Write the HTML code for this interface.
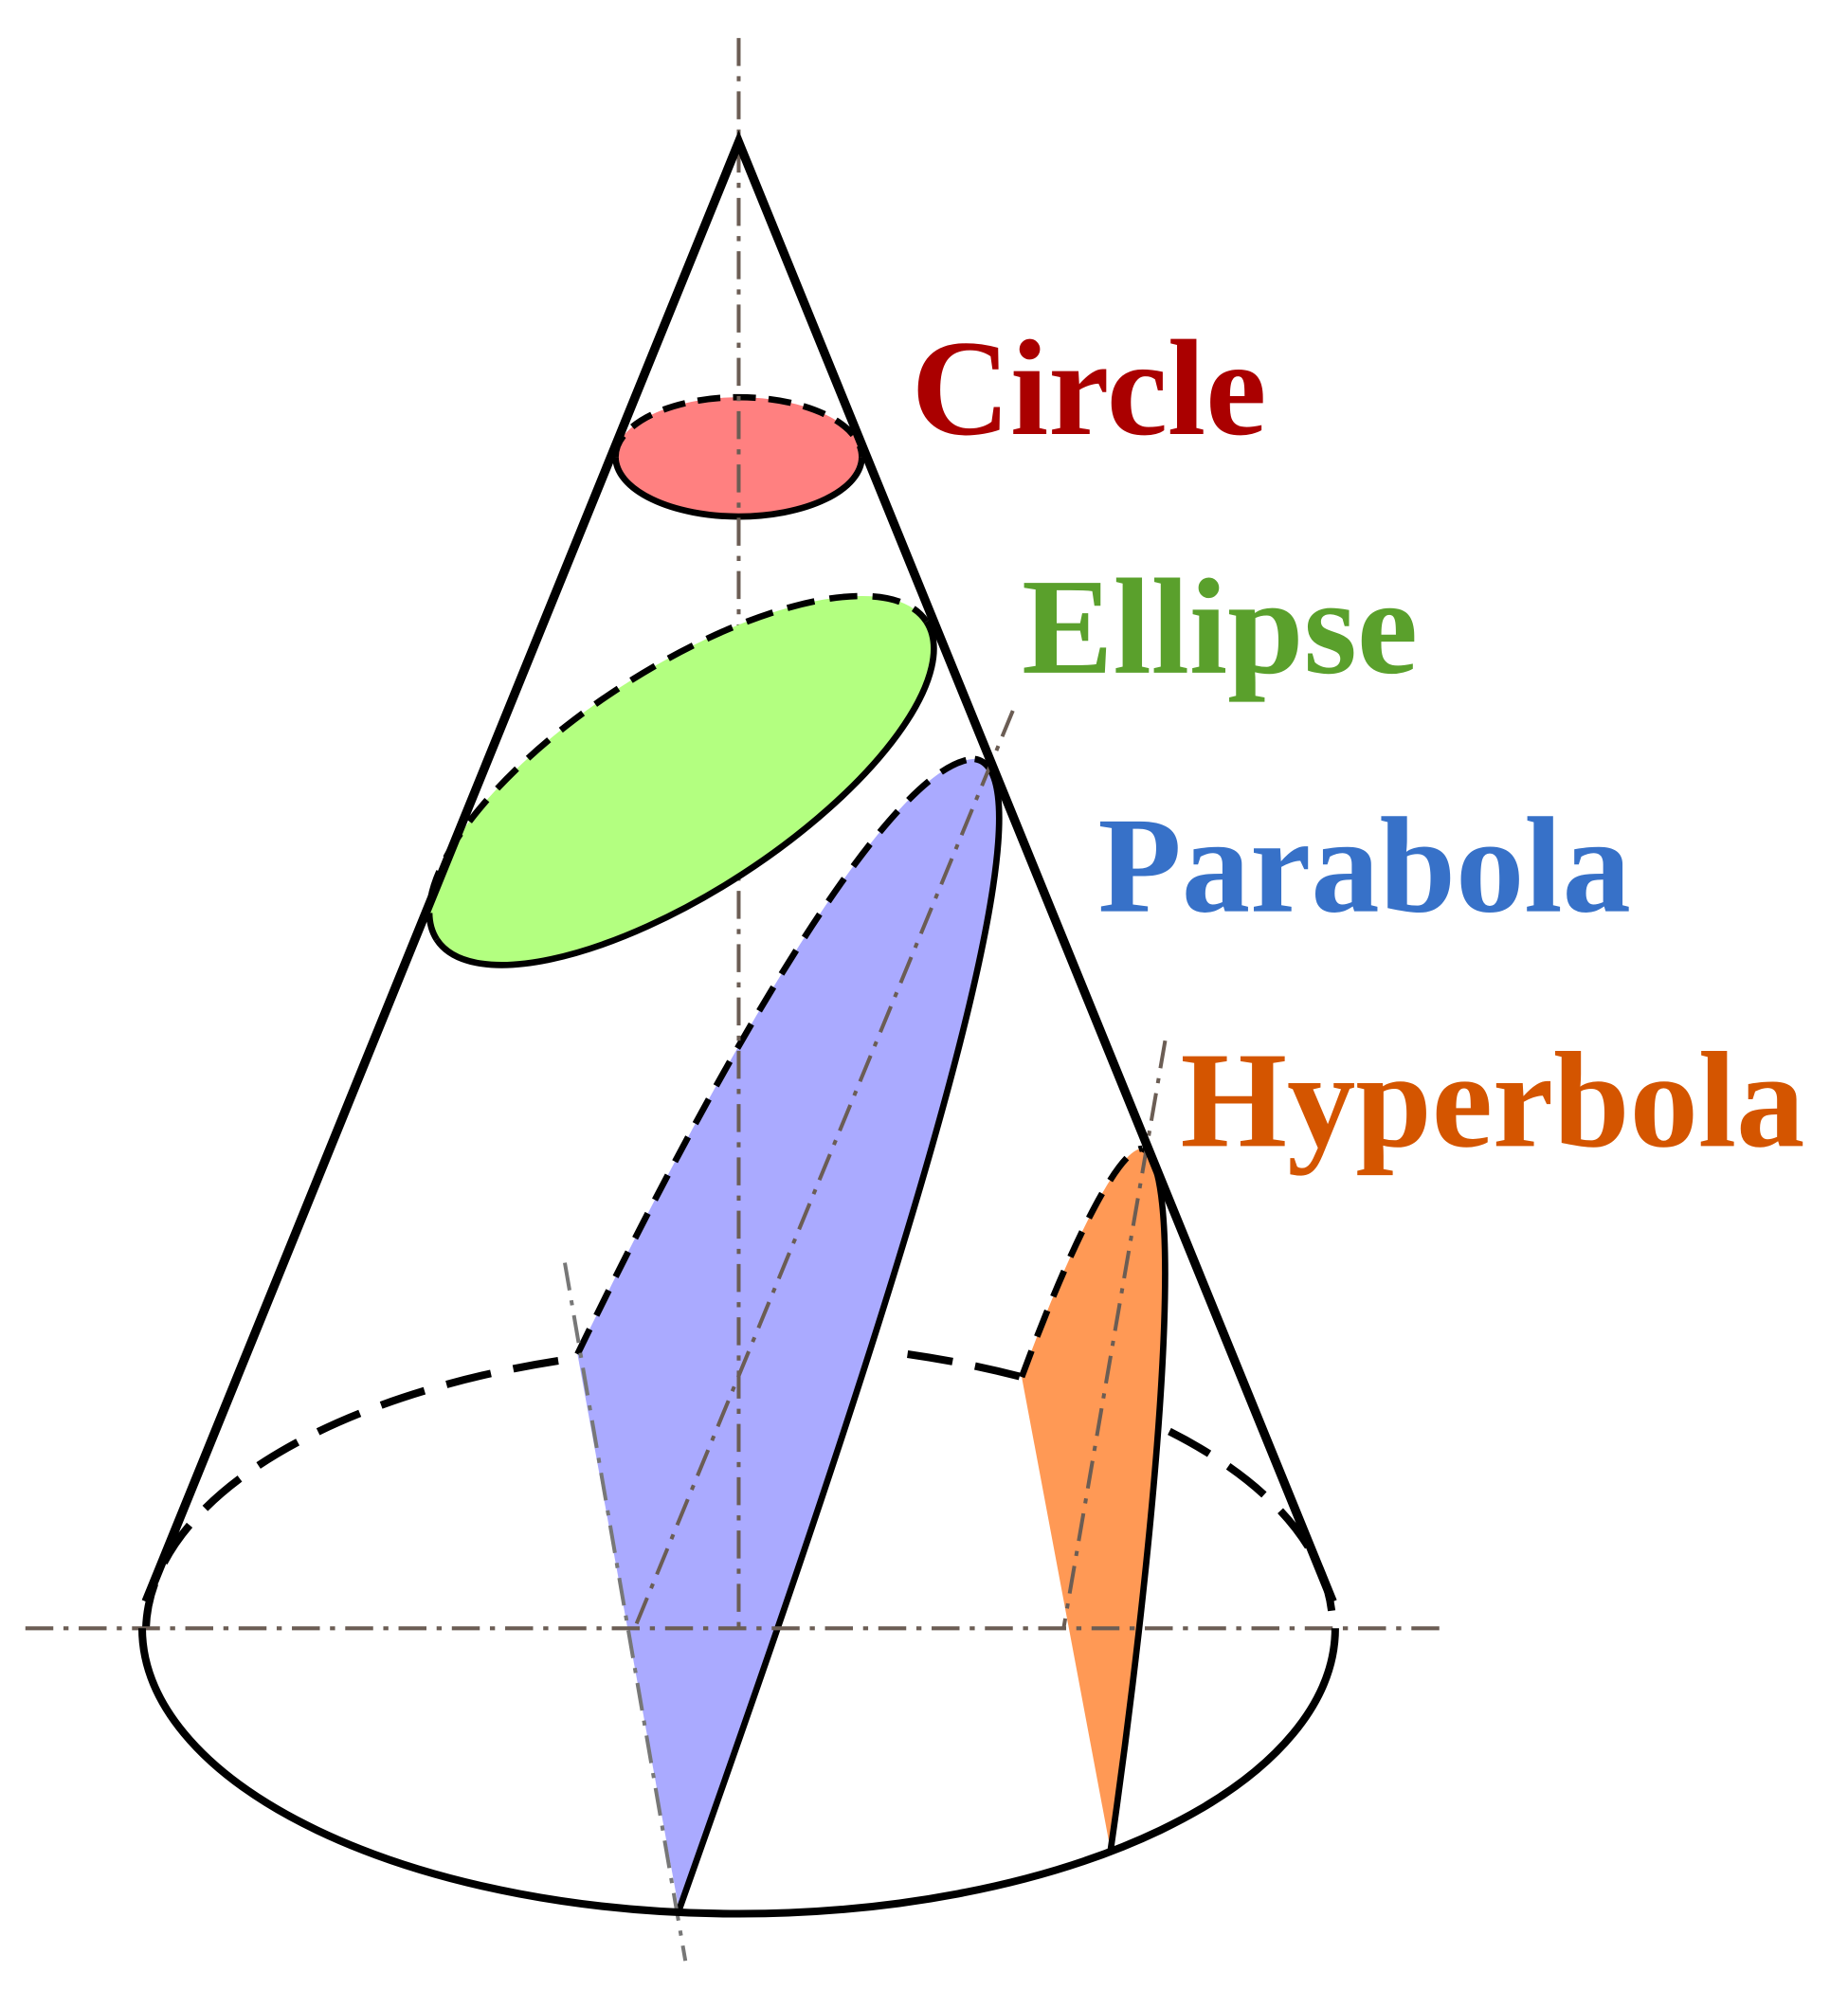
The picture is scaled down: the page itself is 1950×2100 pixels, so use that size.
<!DOCTYPE html>
<html><head><meta charset="utf-8"><style>
html,body{margin:0;padding:0;background:#fff;}
svg{display:block;}
</style></head><body>
<svg width="1950" height="2100" viewBox="0 0 1456 1568" xmlns="http://www.w3.org/2000/svg">
<!-- back dashed base -->
<path d="M115,1283 A470,225 0 0 1 455,1070" fill="none" stroke="#000" stroke-width="6" stroke-dasharray="36,18"/>
<path d="M715,1067 A470,225 0 0 1 1050,1283" fill="none" stroke="#000" stroke-width="6" stroke-dasharray="36,18"/>
<!-- parabola -->
<path d="M455,1067 C560,850 700,600 768,598 C850,610 650,1180 535,1505 Z" fill="#aaaaff"/>
<path d="M455,1067 C560,850 700,600 768,598" fill="none" stroke="#000" stroke-width="5" stroke-dasharray="22,12"/>
<path d="M768,598 C850,610 650,1180 535,1505" fill="none" stroke="#000" stroke-width="5"/>
<!-- hyperbola -->
<path d="M805,1085 C840,990 880,905 900,905 C940,920 905,1250 875,1458 Z" fill="#ff9955"/>
<path d="M805,1085 C840,990 880,905 900,905" fill="none" stroke="#000" stroke-width="5" stroke-dasharray="22,12"/>
<path d="M900,905 C940,920 905,1250 875,1458" fill="none" stroke="#000" stroke-width="5"/>
<!-- circle -->
<ellipse cx="582" cy="360" rx="97" ry="47" fill="#ff8080"/>
<path d="M485,360 A97,47 0 0 1 679,360" fill="none" stroke="#000" stroke-width="5" stroke-dasharray="18,10"/>
<path d="M485,360 A97,47 0 0 0 679,360" fill="none" stroke="#000" stroke-width="5"/>
<!-- axes -->
<g stroke="#6b5d54" stroke-width="3" stroke-dasharray="22,8,4,8" fill="none">
<line x1="582" y1="30" x2="582" y2="1283"/>
<line x1="20" y1="1283" x2="1135" y2="1283"/>
<line x1="798" y1="560" x2="500" y2="1283"/>
<line x1="918" y1="820" x2="838" y2="1283"/>
<line x1="445" y1="995" x2="540" y2="1545" stroke="#777"/>
</g>
<!-- ellipse -->
<g transform="rotate(-33 537 615)">
<ellipse cx="537" cy="615" rx="230" ry="88" fill="#b3ff80"/>
<path d="M307,615 A230,88 0 0 1 767,615" fill="none" stroke="#000" stroke-width="5" stroke-dasharray="22,12"/>
<path d="M307,615 A230,88 0 0 0 767,615" fill="none" stroke="#000" stroke-width="5"/>
</g>
<!-- cone sides -->
<path d="M115,1262 L582,112 L1050,1262" fill="none" stroke="#000" stroke-width="7"/>
<!-- front base -->
<path d="M112,1283 A470,225 0 0 0 1052,1283" fill="none" stroke="#000" stroke-width="6"/>
<!-- labels -->
<g font-family="Liberation Serif, serif" font-weight="bold" font-size="108">
<text x="718" y="342" fill="#aa0000">Circle</text>
<text x="805" y="530" fill="#5aa02c">Ellipse</text>
<text x="865" y="718" fill="#3771c8">Parabola</text>
<text x="930" y="903" fill="#d45500">Hyperbola</text>
</g>
</svg>
</body></html>
